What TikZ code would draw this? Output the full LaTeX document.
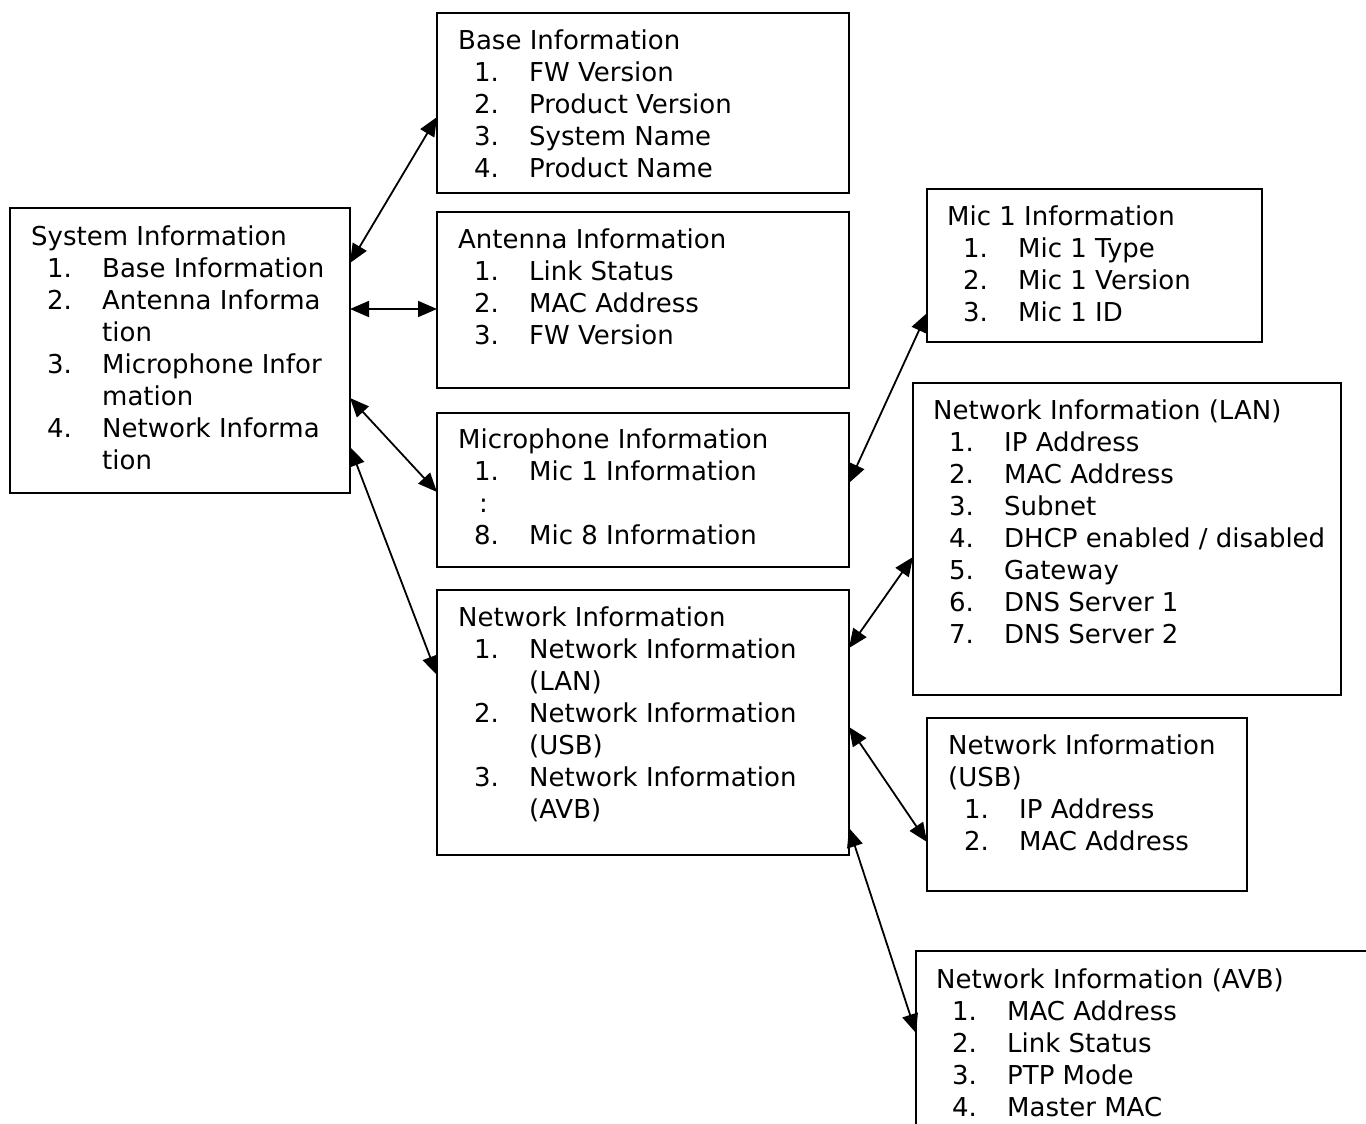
\documentclass[tikz,border=0pt]{standalone}
\usepackage{fontspec}
\setmainfont{DejaVu Sans}
\usetikzlibrary{arrows.meta,calc}

% numbered list entry: number in a fixed indent column, then the entry text
\newcommand\itm[2]{\makebox[71pt][l]{\hspace{16pt}#1}#2}
% continuation of a wrapped entry
\newcommand\cont[1]{\makebox[71pt][l]{}#1}

\begin{document}
\begin{tikzpicture}[x=1pt, y=-1pt,
  font=\fontsize{26}{32}\selectfont,
  infobox/.style={draw=black, line width=1.6pt, anchor=north west,
    inner sep=0pt, outer sep=0pt},
  infotext/.style={anchor=base west, inner sep=0pt},
  link/.style={{Triangle[length=19pt,width=16pt]}-{Triangle[length=19pt,width=16pt]},
    line width=1.8pt}]

\useasboundingbox (0,0) rectangle (1366,1124);
\fill[white] (0,0) rectangle (1366,1124);
\clip (0,0) rectangle (1366,1124);

% ---- boxes ----
\node[infobox, minimum width=340, minimum height=285] (sys)  at (10,208) {};
\node[infobox, minimum width=412, minimum height=180] (base) at (437,13) {};
\node[infobox, minimum width=412, minimum height=176] (ant)  at (437,212) {};
\node[infobox, minimum width=412, minimum height=154] (mic)  at (437,413) {};
\node[infobox, minimum width=412, minimum height=265] (net)  at (437,590) {};
\node[infobox, minimum width=335, minimum height=153] (mic1) at (927,189) {};
\node[infobox, minimum width=428, minimum height=312] (lan)  at (913,383) {};
\node[infobox, minimum width=320, minimum height=173] (usb)  at (927,718) {};
\node[infobox, minimum width=500, minimum height=250] (avb)  at (916,951) {};

% ---- box contents ----
\node[infotext] (sys-t) at ($(sys.north west)+(21,37)$) {\begin{tabular}[t]{@{}l@{}}
  System Information\\
  \itm{1.}{Base Information}\\
  \itm{2.}{Antenna Informa}\\
  \cont{tion}\\
  \itm{3.}{Microphone Infor}\\
  \cont{mation}\\
  \itm{4.}{Network Informa}\\
  \cont{tion}
\end{tabular}};

\node[infotext] (base-t) at ($(base.north west)+(21,37)$) {\begin{tabular}[t]{@{}l@{}}
  Base Information\\
  \itm{1.}{FW Version}\\
  \itm{2.}{Product Version}\\
  \itm{3.}{System Name}\\
  \itm{4.}{Product Name}
\end{tabular}};

\node[infotext] (ant-t) at ($(ant.north west)+(21,36)$) {\begin{tabular}[t]{@{}l@{}}
  Antenna Information\\
  \itm{1.}{Link Status}\\
  \itm{2.}{MAC Address}\\
  \itm{3.}{FW Version}
\end{tabular}};

\node[infotext] (mic-t) at ($(mic.north west)+(21,35)$) {\begin{tabular}[t]{@{}l@{}}
  Microphone Information\\
  \itm{1.}{Mic 1 Information}\\
  \makebox[71pt][l]{\hspace{21pt}:}\\
  \itm{8.}{Mic 8 Information}
\end{tabular}};

\node[infotext] (net-t) at ($(net.north west)+(21,36)$) {\begin{tabular}[t]{@{}l@{}}
  Network Information\\
  \itm{1.}{Network Information}\\
  \cont{(LAN)}\\
  \itm{2.}{Network Information}\\
  \cont{(USB)}\\
  \itm{3.}{Network Information}\\
  \cont{(AVB)}
\end{tabular}};

\node[infotext] (mic1-t) at ($(mic1.north west)+(20,36)$) {\begin{tabular}[t]{@{}l@{}}
  Mic 1 Information\\
  \itm{1.}{Mic 1 Type}\\
  \itm{2.}{Mic 1 Version}\\
  \itm{3.}{Mic 1 ID}
\end{tabular}};

\node[infotext] (lan-t) at ($(lan.north west)+(20,36)$) {\begin{tabular}[t]{@{}l@{}}
  Network Information (LAN)\\
  \itm{1.}{IP Address}\\
  \itm{2.}{MAC Address}\\
  \itm{3.}{Subnet}\\
  \itm{4.}{DHCP enabled / disabled}\\
  \itm{5.}{Gateway}\\
  \itm{6.}{DNS Server 1}\\
  \itm{7.}{DNS Server 2}
\end{tabular}};

\node[infotext] (usb-t) at ($(usb.north west)+(21,36)$) {\begin{tabular}[t]{@{}l@{}}
  Network Information\\
  (USB)\\
  \itm{1.}{IP Address}\\
  \itm{2.}{MAC Address}
\end{tabular}};

\node[infotext] (avb-t) at ($(avb.north west)+(20,37)$) {\begin{tabular}[t]{@{}l@{}}
  Network Information (AVB)\\
  \itm{1.}{MAC Address}\\
  \itm{2.}{Link Status}\\
  \itm{3.}{PTP Mode}\\
  \itm{4.}{Master MAC}
\end{tabular}};

% ---- connectors ----
\draw[link] ($(sys.north east)+(0,55)$)  -- ($(base.north west)+(0,104)$);
\draw[link] ($(sys.north east)+(0,101)$) -- ($(ant.north west)+(0,97)$);
\draw[link] ($(sys.north east)+(0,190)$) -- ($(mic.north west)+(0,79)$);
\draw[link] ($(sys.north east)+(0,239)$) -- ($(net.north west)+(0,85)$);
\draw[link] ($(mic.north east)+(0,70)$)  -- ($(mic1.north west)+(0,124)$);
\draw[link] ($(net.north east)+(0,58)$)  -- ($(lan.north west)+(0,174)$);
\draw[link] ($(net.north east)+(0,137)$) -- ($(usb.north west)+(0,124)$);
\draw[link] ($(net.north east)+(0,238)$) -- ($(avb.north west)+(0,82)$);

\end{tikzpicture}
\end{document}
